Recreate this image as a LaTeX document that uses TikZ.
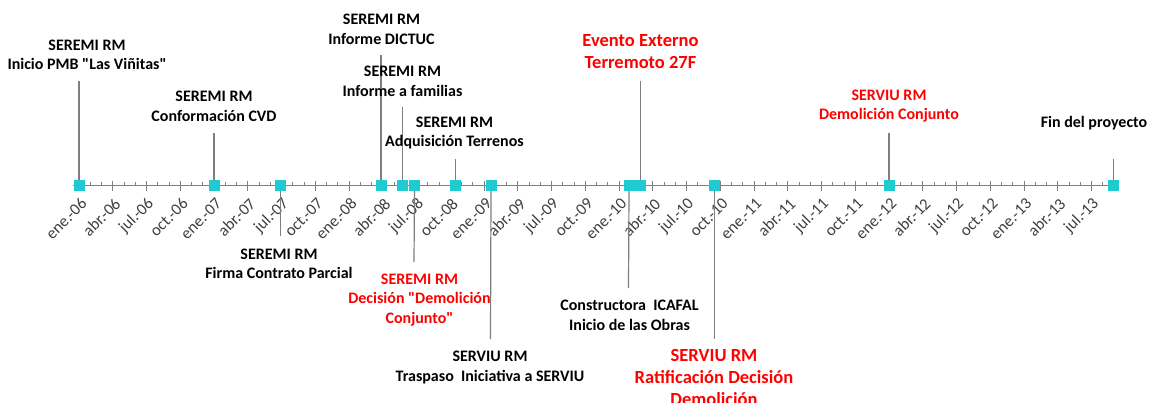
\documentclass[tikz,border=0pt]{standalone}
\usepackage{fontspec}
\setmainfont{Carlito}[Ligatures=TeXOff]
\definecolor{mk}{HTML}{1FCAD0}
\definecolor{ln}{HTML}{7F7F7F}
\definecolor{rd}{HTML}{FF0000}
\definecolor{tk}{HTML}{404040}
\begin{document}
\begin{tikzpicture}[x=1pt,y=-1pt,
 marker/.style={fill=mk, draw=none, minimum size=11pt, inner sep=0pt, outer sep=0pt},
 stem/.style={draw=ln, line width=1.2pt},
 axisline/.style={draw=ln, line width=1pt},
 evlab/.style={font=\bfseries\fontsize{16}{19.5}\selectfont, align=center, inner sep=0pt},
 evred/.style={evlab, text=rd},
 evbig/.style={font=\bfseries\fontsize{18.5}{22}\selectfont, align=center, inner sep=0pt, text=rd},
 ticklab/.style={font=\fontsize{16.5}{19}\selectfont, text=tk, rotate=45, anchor=east, inner sep=0pt}]
\useasboundingbox[fill=white] (0,0) rectangle (1151,402);

% axis and ticks
\coordinate (axL) at (73,185.3);
\coordinate (axR) at (1114,185.3);
\draw[axisline] (axL) -- (axR);
\foreach \m in {0,...,92} {
  \draw[axisline] (79+11.25*\m,182) -- (79+11.25*\m,185.3);
}
\foreach \lab [count=\i from 0] in {ene.-06,abr.-06,jul.-06,oct.-06,ene.-07,abr.-07,jul.-07,oct.-07,ene.-08,abr.-08,jul.-08,oct.-08,ene.-09,abr.-09,jul.-09,oct.-09,ene.-10,abr.-10,jul.-10,oct.-10,ene.-11,abr.-11,jul.-11,oct.-11,ene.-12,abr.-12,jul.-12,oct.-12,ene.-13,abr.-13,jul.-13} {
  \draw[axisline] (79+33.75*\i,181) -- (79+33.75*\i,190.5);
  \node[ticklab] (t\i) at (79+33.75*\i+5,201) {\lab};
}

% markers
\node[marker] (m1) at (79,185.3) {};
\node[marker] (m2) at (214,185.3) {};
\node[marker] (m3) at (280.5,185.3) {};
\node[marker] (m4) at (381,185.3) {};
\node[marker] (m5a) at (402.5,185.3) {};
\node[marker] (m5b) at (414.5,185.3) {};
\node[marker] (m6) at (455.5,185.3) {};
\node[marker] (m7) at (491,185.3) {};
\node[marker] (m8a) at (629,185.3) {};
\node[marker] (m8b) at (640.5,185.3) {};
\node[marker] (m9) at (714.5,185.3) {};
\node[marker] (m10) at (889,185.3) {};
\node[marker] (m11) at (1113.8,185.3) {};

% stem ends
\coordinate (e1) at (79,81);
\coordinate (e2) at (214,133);
\coordinate (e3) at (280.5,236);
\coordinate (e4) at (381,55);
\coordinate (e5a) at (402.5,107);
\coordinate (e5b) at (414,262);
\coordinate (e6) at (455.5,159);
\coordinate (e7) at (490.5,339);
\coordinate (e8a) at (628.5,288);
\coordinate (e8b) at (640.5,81);
\coordinate (e9) at (714.5,339);
\coordinate (e10) at (889,133);
\coordinate (e11) at (1113.8,159);

\draw[stem] (m1.north) -- (e1);
\draw[stem] (m2.north) -- (e2);
\draw[stem] (m3.south) -- (e3);
\draw[stem] (m4.north) -- (e4);
\draw[stem] (m5a.north) -- (e5a);
\draw[stem] (m5b.south) -- (e5b);
\draw[stem] (m6.north) -- (e6);
\draw[stem] (m7.south) -- (e7);
\draw[stem] (m8a.south) -- (e8a);
\draw[stem] (m8b.north) -- (e8b);
\draw[stem] (m9.south) -- (e9);
\draw[stem] (m10.north) -- (e10);
\draw[stem] (m11.north) -- (e11);

% labels
\node[evlab] (l1) at (87,55) {SEREMI RM\\Inicio PMB "Las Viñitas"};
\node[evlab] (l2) at (214,106.5) {SEREMI RM\\Conformación CVD};
\node[evlab] (l3) at (279,264) {SEREMI RM\\Firma Contrato Parcial};
\node[evlab] (l4) at (381.5,29.5) {SEREMI RM\\Informe DICTUC};
\node[evlab] (l5a) at (402.5,81.5) {SEREMI RM\\Informe a familias};
\node[evred] (l5b) at (419.5,300) {SEREMI RM\\Decisión "Demolición\\Conjunto"};
\node[evlab] (l6) at (454.5,133) {SEREMI RM\\Adquisición Terrenos};
\node[evlab] (l7) at (490,367.5) {SERVIU RM\\Traspaso~ Iniciativa a SERVIU};
\node[evlab] (l8a) at (629.5,315.5) {Constructora~ ICAFAL\\Inicio de las Obras};
\node[evbig] (l8b) at (640.5,51.5) {Evento Externo\\Terremoto 27F};
\node[evbig] (l9) at (714,377) {SERVIU RM\\Ratificación Decisión\\Demolición};
\node[evred] (l10) at (889,106) {SERVIU RM\\Demolición Conjunto};
\node[evlab] (l11) at (1094,123) {Fin del proyecto};
\end{tikzpicture}
\end{document}
